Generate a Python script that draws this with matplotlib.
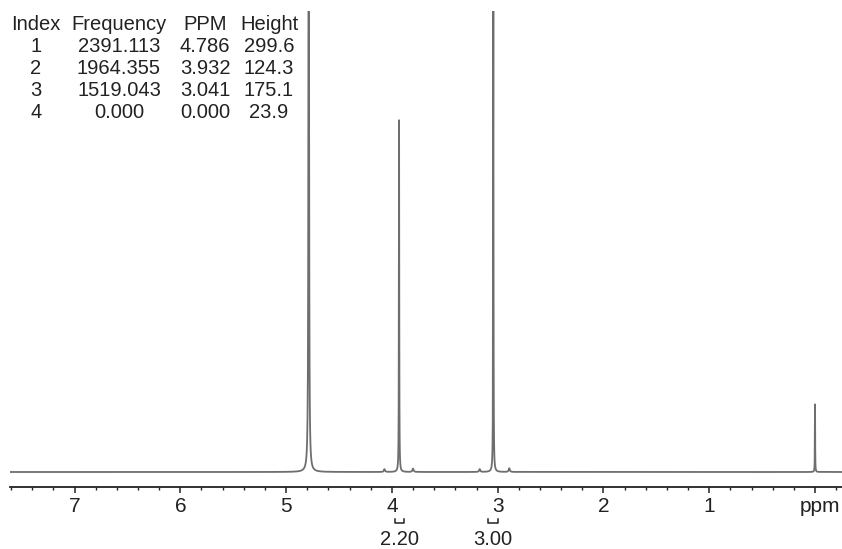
import matplotlib
matplotlib.use('Agg')
import matplotlib.pyplot as plt
import matplotlib.transforms as mtransforms
import numpy as np

plt.rcParams['font.family'] = ['Liberation Sans', 'DejaVu Sans']

# peak table (as printed on the spectrum)
peak_index = [1, 2, 3, 4]
peak_freq = [2391.113, 1964.355, 1519.043, 0.000]
peak_ppm = [4.786, 3.932, 3.041, 0.000]
peak_height = [299.6, 124.3, 175.1, 23.9]
peak_width = [0.003, 0.0018, 0.0018, 0.0015]   # half widths, ppm

# small impurity bumps seen near the baseline
minor_ppm = [4.07, 3.80, 3.17, 2.89]
minor_height = [1.0, 1.2, 1.0, 1.3]

# integrals under the axis
integral_ranges = [(3.97, 3.89), (3.09, 3.00)]
integral_values = ['2.20', '3.00']

W, H = 842, 549
fig = plt.figure(figsize=(W / 100, H / 100), dpi=100)

# axes: x from 10 px to right edge, bottom at axis line (y=487), top at y=11
ax = fig.add_axes([10 / W, (H - 487) / H, 832 / W, 476 / H])

ppm = np.linspace(-0.3, 7.7, 240001)
ppm = np.sort(np.concatenate([ppm, peak_ppm]))
spec = np.zeros_like(ppm)
for c, h, g in zip(peak_ppm + minor_ppm, peak_height + minor_height,
                   peak_width + [0.006] * len(minor_ppm)):
    spec += h * g ** 2 / (g ** 2 + (ppm - c) ** 2)

ax.plot(ppm, spec, color='#6e6e6e', lw=1.3)

ax.set_xlim(7.61, -0.255)
ax.set_ylim(-5.3, 162.9)

for s in ['top', 'left', 'right']:
    ax.spines[s].set_visible(False)
ax.spines['bottom'].set_linewidth(1.3)
ax.spines['bottom'].set_color('#222222')
ax.set_yticks([])

ax.set_xticks([7, 6, 5, 4, 3, 2, 1, 0])
ax.set_xticklabels(['7', '6', '5', '4', '3', '2', '1', 'ppm'])
ax.set_xticks(np.arange(-0.2, 7.61, 0.2), minor=True)
ax.tick_params(axis='x', which='major', direction='out', length=4.5, width=1.1,
               color='#222222', labelsize=15, labelcolor='#222222', pad=3)
ax.tick_params(axis='x', which='minor', direction='out', length=2.5, width=1.0,
               color='#222222')
# 'ppm' sits a little right of the 0 tick
lab = ax.get_xticklabels()[-1]
lab.set_transform(lab.get_transform() +
                  mtransforms.ScaledTranslation(5 / 100, 0, fig.dpi_scale_trans))

# integral brackets
trans = mtransforms.blended_transform_factory(ax.transData, fig.transFigure)
yb = (H - 523) / H
yt = (H - 518.5) / H
for (a, b), lab in zip(integral_ranges, integral_values):
    ax.plot([a, a, b, b], [yt, yb, yb, yt], transform=trans, color='#222222',
            lw=1.1, clip_on=False)
    ax.text((a + b) / 2, (H - 545) / H, lab, transform=trans, ha='center',
            va='baseline', fontsize=14.5, color='#222222')

# peak table text
col_x = [36, 119, 205, 269]
header = ['Index', 'Frequency', 'PPM', 'Height']
row_y = [25, 47, 69, 90, 112]
for x, t in zip(col_x, header):
    fig.text(x / W, 1 - row_y[0] / H, t, ha='center', va='center',
             fontsize=14.5, color='#222222')
for i in range(len(peak_index)):
    vals = [str(peak_index[i]), '%.3f' % peak_freq[i],
            '%.3f' % peak_ppm[i], '%.1f' % peak_height[i]]
    for x, t in zip(col_x, vals):
        fig.text(x / W, 1 - row_y[i + 1] / H, t, ha='center', va='center',
                 fontsize=14.5, color='#222222')

fig.savefig('out.png', dpi=100)
